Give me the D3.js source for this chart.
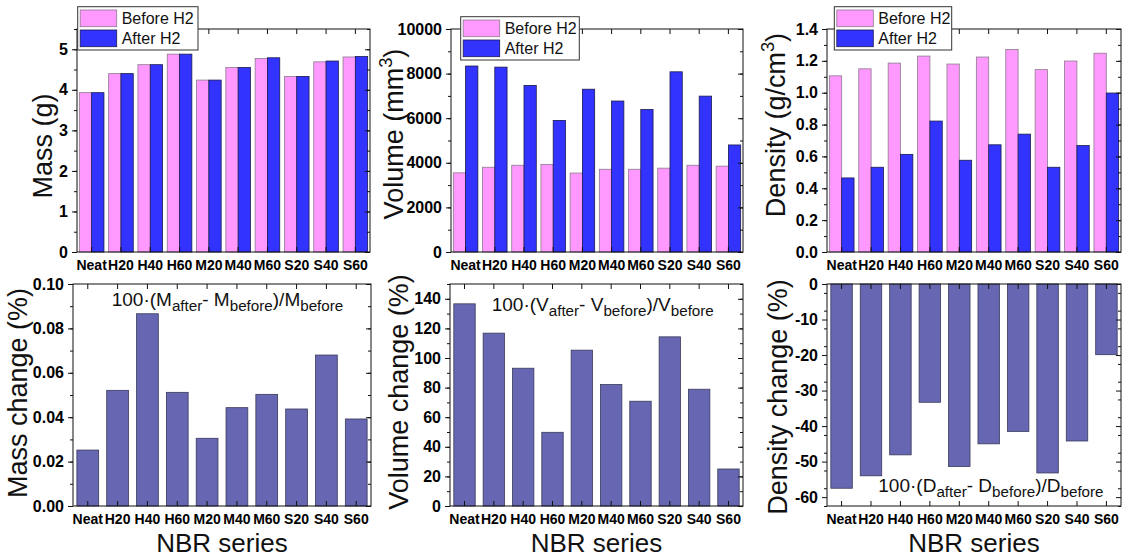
<!DOCTYPE html>
<html>
<head>
<meta charset="utf-8">
<script src="https://cdn.jsdelivr.net/npm/d3@7"></script>
<style>
  body { margin: 0; background: #fff; }
  text { font-family: 'Liberation Sans', Arial, sans-serif; }
</style>
</head>
<body>
<svg id="chart"></svg>
<script>
// NBR samples
const categories = ['Neat', 'H20', 'H40', 'H60', 'M20', 'M40', 'M60', 'S20', 'S40', 'S60'];

// top row: before / after H2
const massBefore = [3.93, 4.40, 4.62, 4.88, 4.24, 4.55, 4.77, 4.33, 4.69, 4.81];
const massAfter  = [3.93, 4.40, 4.62, 4.88, 4.24, 4.55, 4.79, 4.33, 4.71, 4.82];
const volBefore  = [3550, 3800, 3890, 3930, 3540, 3710, 3710, 3760, 3890, 3850];
const volAfter   = [8340, 8290, 7470, 5900, 7300, 6770, 6390, 8080, 6990, 4800];
const densBefore = [1.106, 1.150, 1.186, 1.230, 1.180, 1.224, 1.272, 1.145, 1.199, 1.248];
const densAfter  = [0.465, 0.532, 0.613, 0.822, 0.576, 0.673, 0.740, 0.532, 0.668, 0.998];

// bottom row: change in %
const massChange = [0.0252, 0.0521, 0.0866, 0.0512, 0.0305, 0.0443, 0.0503, 0.0437, 0.0680, 0.0392];
const volChange  = [136.6, 116.8, 93.1, 49.8, 105.3, 82.1, 70.8, 114.3, 78.9, 25.0];
const densChange = [-57.5, -54.0, -48.1, -33.3, -51.4, -45.0, -41.5, -53.2, -44.2, -19.9];

// axis ticks
const massTicks = [0, 1, 2, 3, 4, 5];
const volTicks = [0, 2000, 4000, 6000, 8000, 10000];
const densTicks = [0, 0.2, 0.4, 0.6, 0.8, 1.0, 1.2, 1.4];
const massChangeTicks = [0, 0.02, 0.04, 0.06, 0.08, 0.10];
const volChangeTicks = [0, 20, 40, 60, 80, 100, 120, 140];
const densChangeTicks = [0, -10, -20, -30, -40, -50, -60];

const legendLabels = ['Before H2', 'After H2'];
const pairColors = ['#FF99FF', '#3333FF'];
const pairStrokes = ['#8c7a8c', '#1a1a4d'];
const changeColor = '#6666B2';

const svg = d3.select('#chart').attr('width', 1127).attr('height', 560);

const panels = [
  { l: 77, r: 370, t: 29, b: 252, series: [massBefore, massAfter], domain: [0, 5.5],
    ticks: massTicks, minorStep: 0.5, fmt: d3.format('d'),
    title: [['Mass (g)']], tx: 52, ty: 146, legend: { x: 77.7, y: 6.7, w: 120.3 } },
  { l: 451, r: 743, t: 29, b: 252, series: [volBefore, volAfter], domain: [0, 10000],
    ticks: volTicks, minorStep: 1000, fmt: d3.format('d'),
    title: [['Volume (mm'], ['3', 'sup'], [')']], tx: 403, ty: 134, legend: { x: 460.7, y: 16.7, w: 118.6 } },
  { l: 827, r: 1121, t: 29, b: 252, series: [densBefore, densAfter], domain: [0, 1.4],
    ticks: densTicks, minorStep: 0.1, fmt: d3.format('.1f'),
    title: [['Density (g/cm'], ['3', 'sup'], [')']], tx: 785, ty: 125, legend: { x: 834.3, y: 6.7, w: 117.4 } },
  { l: 73, r: 371, t: 284, b: 506, series: [massChange], domain: [0, 0.10],
    ticks: massChangeTicks, minorStep: 0.01, fmt: d3.format('.2f'),
    title: [['Mass change (%)']], tx: 27, ty: 393,
    formula: { x: 111.7, y: 306, letter: 'M' } },
  { l: 450, r: 743, t: 284, b: 506, series: [volChange], domain: [0, 150],
    ticks: volChangeTicks, minorStep: 10, fmt: d3.format('d'),
    title: [['Volume change (%)']], tx: 408, ty: 392,
    formula: { x: 491.7, y: 311, letter: 'V' } },
  { l: 827, r: 1121, t: 284, b: 506, series: [densChange], domain: [-62.5, 0],
    ticks: densChangeTicks, minorStep: 5, fmt: d => String(d),
    title: [['Density change (%)']], tx: 787, ty: 397,
    formula: { x: 878.3, y: 491.5, letter: 'D' } }
];

function styleAxis(sel, fontSize, weight) {
  sel.select('.domain').remove();
  sel.selectAll('line').attr('stroke', '#111');
  sel.selectAll('text')
    .attr('fill', '#000')
    .style('font-family', "'Liberation Sans', Arial, sans-serif")
    .style('font-size', fontSize + 'px')
    .style('font-weight', weight);
}

// parts: [text] or [text, 'sub'|'sup']; the shift is undone on the next part
function richText(el, parts, size) {
  let back = 0;
  parts.forEach(p => {
    const ts = el.append('tspan').text(p[0]);
    let dy = back;
    back = 0;
    if (p[1] === 'sup') {
      dy += -size * 0.4;
      back = size * 0.4;
      ts.style('font-size', (size * 0.68) + 'px');
    } else if (p[1] === 'sub') {
      dy += size * 0.28;
      back = -size * 0.28;
      ts.style('font-size', (size * 0.8) + 'px');
    }
    if (dy) ts.attr('dy', dy);
  });
}

function drawPanel(p) {
  const g = svg.append('g');
  const pair = p.series.length === 2;

  const x = d3.scaleBand()
    .domain(categories)
    .range([p.l, p.r])
    .paddingInner(pair ? 0.16 : 0.27)
    .paddingOuter(pair ? 0.08 : 0.13);

  const y = d3.scaleLinear().domain(p.domain).range([p.b, p.t]);

  const sub = d3.scaleBand().domain(d3.range(p.series.length)).range([0, x.bandwidth()]);

  p.series.forEach((vals, si) => {
    g.append('g').selectAll('rect')
      .data(vals)
      .join('rect')
      .attr('x', (d, i) => x(categories[i]) + sub(si))
      .attr('y', d => Math.min(y(0), y(d)))
      .attr('width', sub.bandwidth())
      .attr('height', d => Math.abs(y(d) - y(0)))
      .attr('fill', pair ? pairColors[si] : changeColor)
      .attr('stroke', pair ? pairStrokes[si] : '#3a3a5a')
      .attr('stroke-width', 0.8);
  });

  const minor = d3.range(p.domain[0], p.domain[1] + 1e-9, p.minorStep);

  // left: minor + major, outward
  g.append('g').attr('transform', `translate(${p.l},0)`)
    .call(d3.axisLeft(y).tickValues(minor).tickSize(3).tickFormat(''))
    .call(s => styleAxis(s, 16, 'bold'));
  g.append('g').attr('transform', `translate(${p.l},0)`)
    .call(d3.axisLeft(y).tickValues(p.ticks).tickSize(5).tickPadding(4).tickFormat(p.fmt))
    .call(s => styleAxis(s, 16, 'bold'));

  // right: inward
  g.append('g').attr('transform', `translate(${p.r},0)`)
    .call(d3.axisRight(y).tickValues(minor).tickSize(-3).tickFormat(''))
    .call(s => styleAxis(s, 16, 'bold'));
  g.append('g').attr('transform', `translate(${p.r},0)`)
    .call(d3.axisRight(y).tickValues(p.ticks).tickSize(-5).tickFormat(''))
    .call(s => styleAxis(s, 16, 'bold'));

  // top and bottom, inward ticks at categories
  g.append('g').attr('transform', `translate(0,${p.t})`)
    .call(d3.axisTop(x).tickSize(-5).tickFormat(''))
    .call(s => styleAxis(s, 14, 'bold'));
  g.append('g').attr('transform', `translate(0,${p.b})`)
    .call(d3.axisBottom(x).tickSize(-5).tickPadding(8))
    .call(s => styleAxis(s, 14, 'bold'));

  g.append('rect')
    .attr('x', p.l).attr('y', p.t)
    .attr('width', p.r - p.l).attr('height', p.b - p.t)
    .attr('fill', 'none').attr('stroke', '#111').attr('stroke-width', 1);

  // y title
  const t = g.append('text')
    .attr('transform', `translate(${p.tx},${p.ty}) rotate(-90)`)
    .attr('text-anchor', 'middle')
    .style('font-size', '27px')
    .attr('fill', '#111');
  richText(t, p.title, 27);

  if (p.legend) {
    const lg = g.append('g').attr('transform', `translate(${p.legend.x},${p.legend.y})`);
    lg.append('rect').attr('width', p.legend.w).attr('height', 43.3)
      .attr('fill', '#fff').attr('stroke', '#333').attr('stroke-width', 1);
    legendLabels.forEach((lab, i) => {
      lg.append('rect')
        .attr('x', 2.5).attr('y', 3.3 + i * 20)
        .attr('width', 36.5).attr('height', 16.7)
        .attr('fill', pairColors[i]).attr('stroke', pairStrokes[i]).attr('stroke-width', 0.8);
      lg.append('text')
        .attr('x', 44).attr('y', 17.6 + i * 19.5)
        .style('font-size', '16px').attr('fill', '#111')
        .text(lab);
    });
  }

  if (p.formula) {
    const L = p.formula.letter;
    const f = g.append('text')
      .attr('x', p.formula.x).attr('y', p.formula.y)
      .style('font-size', '19px').attr('fill', '#111');
    richText(f, [['100\u00B7(' + L], ['after', 'sub'], ['- ' + L], ['before', 'sub'], [')/' + L], ['before', 'sub']], 19);
  }

  if (!pair) {
    g.append('text')
      .attr('x', (p.l + p.r) / 2).attr('y', 552)
      .attr('text-anchor', 'middle')
      .style('font-size', '26px').attr('fill', '#111')
      .text('NBR series');
  }
}

panels.forEach(drawPanel);
</script>
</body>
</html>
